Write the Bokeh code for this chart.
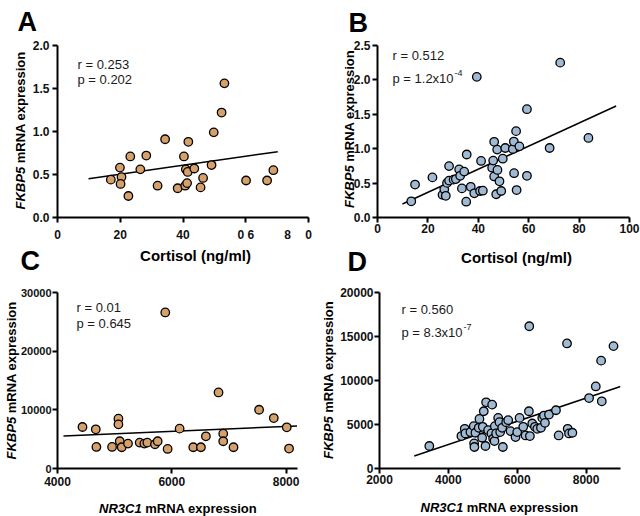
from bokeh.plotting import figure
from bokeh.layouts import column, row
from bokeh.models import Label, FixedTicker, PrintfTickFormatter, Range1d
from bokeh.core.properties import value
from bokeh.embed import file_html
from bokeh.resources import INLINE
import math

FONT = "Liberation Sans"
ORANGE = "#D6A06A"
BLUE = "#A0BAD4"

# ---------------- data ----------------
cortisol_a = [17.0, 19.9, 20.4, 20.1, 22.6, 23.2, 26.4, 28.3, 31.9, 34.3, 38.3, 40.3, 40.7, 40.9,
              41.3, 41.5, 41.7, 43.6, 45.6, 46.4, 49.1, 49.8, 52.3, 53.2, 60.1, 66.8, 68.8]
fkbp5_a = [0.44, 0.58, 0.47, 0.39, 0.25, 0.71, 0.56, 0.72, 0.37, 0.91, 0.34, 0.71, 0.37, 0.56,
           0.40, 0.53, 0.88, 0.57, 0.35, 0.46, 0.61, 0.99, 1.22, 1.56, 0.43, 0.43, 0.55]
fit_a_x = [9.9, 70.2]
fit_a_y = [0.45, 0.765]

cortisol_b = [13.4, 14.9, 21.8, 25.8, 26.5, 27.1, 27.6, 28.4, 28.4, 30.2, 31.1, 32.4, 32.8, 33.5,
              34.4, 35.4, 35.2, 37.0, 38.4, 39.4, 40.7, 41.1, 41.8, 45.5, 45.9, 46.3, 46.3, 47.1,
              47.5, 47.6, 48.4, 49.1, 49.7, 50.7, 53.7, 54.1, 54.2, 55.0, 55.2, 56.3, 59.3, 59.3,
              68.3, 72.5, 83.7]
fkbp5_b = [0.235, 0.479, 0.583, 0.329, 0.409, 0.315, 0.503, 0.747, 0.536, 0.550, 0.559, 0.700,
           0.606, 0.423, 0.667, 0.916, 0.230, 0.446, 0.352, 2.044, 0.385, 0.822, 0.390, 0.724,
           0.827, 1.100, 0.597, 0.338, 0.987, 0.691, 0.526, 0.385, 0.855, 1.010, 0.996, 1.104,
           0.644, 1.255, 0.399, 1.034, 1.574, 0.606, 1.010, 2.251, 1.156]
fit_b_x = [9.9, 94.7]
fit_b_y = [0.197, 1.621]

nr3c1_c = [4437, 4670, 4681, 4955, 5066, 5066, 5089, 5124, 5234, 5438, 5520, 5572, 5706, 5753,
           5886, 5927, 6137, 6376, 6510, 6597, 6818, 6900, 6900, 7080, 7528, 7785, 8012, 8052]
fkbp5_c = [7074, 6678, 3678, 3678, 8489, 7527, 4641, 3622, 4244, 4414, 4244, 4414, 4131, 4641,
           26599, 3339, 6791, 3622, 3622, 5489, 12960, 5942, 4641, 3622, 10017, 8602, 7018, 3396]
fit_c_x = [4105, 8192]
fit_c_y = [5546, 7244]

nr3c1_d = [3447, 4379, 4476, 4495, 4641, 4738, 4748, 4757, 4786, 4903, 4883, 5000, 4981, 5029,
           5078, 5097, 5155, 5272, 5252, 5301, 5340, 5350, 5388, 5447, 5485, 5505, 5563, 5583,
           5680, 5738, 5806, 5951, 6000, 6068, 6175, 6243, 6340, 6350, 6369, 6437, 6515, 6583,
           6689, 6728, 6777, 6806, 6922, 7126, 7204, 7447, 7466, 7505, 7602, 8087, 8282, 8437,
           8456, 8796]
fkbp5_d = [2556, 3684, 4511, 3985, 4135, 4812, 2857, 2444, 4060, 5639, 4624, 4737, 3496, 6504,
           2556, 7519, 4361, 7256, 3985, 3383, 3120, 4812, 3985, 5752, 5263, 4135, 4624, 2444,
           5263, 5489, 4248, 3571, 4135, 5752, 4737, 3759, 6504, 16165, 3684, 5113, 4737, 4511,
           4624, 5752, 6015, 5188, 6128, 6617, 3759, 14211, 4511, 3985, 4060, 8008, 9323, 12256,
           7632, 13910]
fit_d_x = [3010, 9000]
fit_d_y = [1429, 9310]

xt_a = [0, 20, 40, 60, 80]
yt_a = [0, 0.5, 1.0, 1.5, 2.0]
xt_b = [0, 20, 40, 60, 80, 100]
yt_b = [0, 0.5, 1.0, 1.5, 2.0, 2.5]
xt_c = [4000, 6000, 8000]
yt_c = [0, 10000, 20000, 30000]
xt_d = [2000, 4000, 6000, 8000]
yt_d = [0, 5000, 10000, 15000, 20000]


def make_fig(w, h, xr, yr, bl, br, bt, bb, xticks, yticks, xso, yso, yfmt=None,
             ytick_size="12px"):
    p = figure(width=w, height=h, x_range=Range1d(*xr), y_range=Range1d(*yr),
               output_backend="svg", toolbar_location=None,
               min_border_left=bl, min_border_right=br, min_border_top=bt, min_border_bottom=bb)
    p.xgrid.visible = False
    p.ygrid.visible = False
    p.outline_line_color = None
    p.background_fill_color = "white"
    p.border_fill_color = "white"
    for ax in (p.xaxis[0], p.yaxis[0]):
        ax.axis_line_width = 2
        ax.axis_line_color = "black"
        ax.major_tick_line_width = 2
        ax.major_tick_line_color = "black"
        ax.major_tick_out = 5
        ax.major_tick_in = 0
        ax.minor_tick_out = 0
        ax.minor_tick_in = 0
        ax.major_label_text_font = FONT
        ax.major_label_text_font_style = "bold"
        ax.major_label_text_font_size = "12px"
        ax.major_label_text_color = "#111111"
    p.xaxis[0].major_label_standoff = xso
    p.yaxis[0].major_label_standoff = yso
    p.yaxis[0].major_label_text_font_size = ytick_size
    p.xaxis[0].ticker = FixedTicker(ticks=xticks, minor_ticks=[])
    p.yaxis[0].ticker = FixedTicker(ticks=yticks, minor_ticks=[])
    if yfmt:
        p.yaxis[0].formatter = PrintfTickFormatter(format=yfmt)
    return p


def lab(p, x, y, text, size, style="normal", align="left", color="#1a1a1a"):
    """Text inside the frame; x, y are pixel offsets of the baseline from the frame's bottom-left."""
    fs = float(size.replace("px", ""))
    p.add_layout(Label(x=x, y=y + 0.15 * fs, x_units="screen", y_units="screen", text=text,
                       text_font=FONT, text_font_size=size, text_font_style=style,
                       text_align=align, text_baseline="alphabetic", text_color=color))


def otext(p, dx, dy, text, size, style="bold", angle=0.0, align="left",
          baseline="alphabetic", color="black"):
    """Text outside the frame, anchored at the frame's bottom-left corner plus a pixel offset."""
    fs = float(size.replace("px", ""))
    if angle == 0.0:
        dy = dy + 0.15 * fs
    p.text(x=[p.x_range.start], y=[p.y_range.start], text=[text],
           x_offset=dx, y_offset=-dy, angle=angle,
           text_font=value(FONT), text_font_size=value(size), text_font_style=style,
           text_align=align, text_baseline=baseline, text_color=color, level="overlay")


def ylabel(p, x, y0):
    otext(p, x, y0, "FKBP5", "13px", "bold italic", angle=math.pi / 2, baseline="middle")
    otext(p, x, y0 + 46.2, "mRNA expression", "13px", "bold", angle=math.pi / 2, baseline="middle")


def scatter(p, xs, ys, fx, fy, color):
    p.line(fx, fy, line_color="black", line_width=1.5)
    p.scatter(xs, ys, size=8.5, fill_color=color, line_color="black", line_width=1.3)


# ---------------- Panel A ----------------
pa = make_fig(320, 276, (0, 80), (0, 2.0), 57, 12, 45, 57, xt_a, yt_a, 5, 3, yfmt="%.1f")
pa.xaxis[0].major_label_overrides = {60: "0 6", 80: "0"}
scatter(pa, cortisol_a, fkbp5_a, fit_a_x, fit_a_y, ORANGE)
otext(pa, 230, -19, "8", "12px", "bold", align="center", color="#111111")
lab(pa, 20, 151, "r = 0.253", "13px")
lab(pa, 20, 136, "p = 0.202", "13px")
otext(pa, 138, -40, "Cortisol (ng/ml)", "15px", "bold", align="center")
ylabel(pa, -37, 8)
otext(pa, -40, 191, "A", "27px", "bold")
otext(pa, -37, -48, "C", "27px", "bold")

# ---------------- Panel B ----------------
pb = make_fig(320, 276, (0, 100), (0, 2.5), 57, 11, 40, 59, xt_b, yt_b, 1, 2, yfmt="%.1f")
scatter(pb, cortisol_b, fkbp5_b, fit_b_x, fit_b_y, BLUE)
lab(pb, 15, 160, "r = 0.512", "13px")
lab(pb, 15, 137, "p = 1.2x10", "13px")
lab(pb, 77, 143, "-4", "9px")
otext(pb, 139, -42, "Cortisol (ng/ml)", "15px", "bold", align="center")
ylabel(pb, -28, 9.5)
otext(pb, -29, 190, "B", "27px", "bold")
otext(pb, -30, -49, "D", "27px", "bold")

# ---------------- Panel C ----------------
pc = make_fig(320, 240, (4000, 8200), (0, 30000), 57, 23, 16, 48, xt_c, yt_c, 3, 1,
              ytick_size="11px")
scatter(pc, nr3c1_c, fkbp5_c, fit_c_x, fit_c_y, ORANGE)
lab(pc, 19, 159, "r = 0.01", "13px")
lab(pc, 19, 143, "p = 0.645", "13px")
otext(pc, 41.5, -42, "NR3C1", "13px", "bold italic")
otext(pc, 87.7, -42, "mRNA expression", "13px", "bold")
ylabel(pc, -46, 9)

# ---------------- Panel D ----------------
pd_ = make_fig(320, 240, (2000, 9000), (0, 20000), 59, 20, 16, 47, xt_d, yt_d, 1, 1)
scatter(pd_, nr3c1_d, fkbp5_d, fit_d_x, fit_d_y, BLUE)
lab(pd_, 22, 157, "r = 0.560", "13px")
lab(pd_, 22, 134, "p = 8.3x10", "13px")
lab(pd_, 84, 140, "-7", "9px")
otext(pd_, 41, -41, "NR3C1", "13px", "bold italic")
otext(pd_, 87.2, -41, "mRNA expression", "13px", "bold")
ylabel(pd_, -51, 9.5)

layout = column(row(pa, pb), row(pc, pd_))

with open("out.html", "w") as f:
    f.write(file_html(layout, INLINE))
